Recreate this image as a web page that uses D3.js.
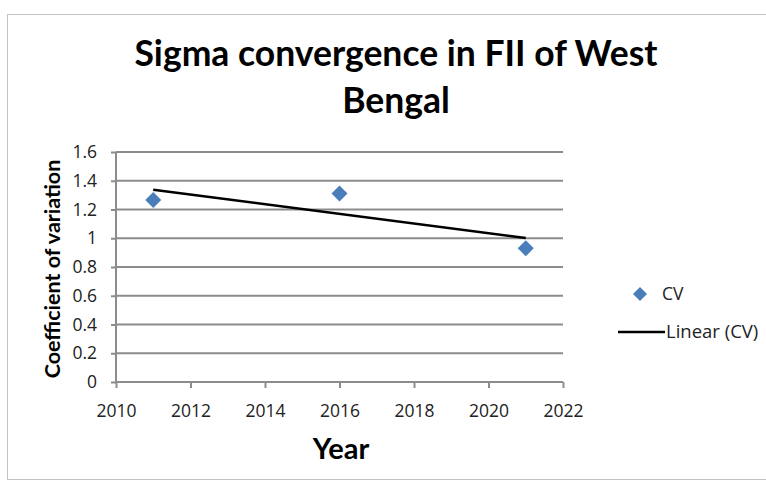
<!DOCTYPE html>
<html><head><meta charset="utf-8">
<script src="https://cdn.jsdelivr.net/npm/d3@7"></script>
<style>body{margin:0;background:#fff;} text{font-family:Lato,"Open Sans",sans-serif;}</style>
</head><body>
<svg id="c" width="766" height="486"></svg>
<script>
const years = [2011, 2016, 2021];
const cv = [1.266, 1.312, 0.930];
const xTicks = [2010, 2012, 2014, 2016, 2018, 2020, 2022];
const yTicks = [0, 0.2, 0.4, 0.6, 0.8, 1, 1.2, 1.4, 1.6];
const titleLines = ["Sigma convergence in FII of West", "Bengal"];

const svg = d3.select("#c");
svg.append("rect").attr("x", 7.5).attr("y", 14.5).attr("width", 770).attr("height", 465)
  .attr("fill", "#fff").attr("stroke", "#c4c4c4").attr("stroke-width", 1);

const x = d3.scaleLinear().domain([2010, 2022]).range([116, 563]);
const y = d3.scaleLinear().domain([0, 1.6]).range([382, 152]);

// gridlines
svg.append("g").selectAll("line").data(yTicks.filter(d => d > 0)).join("line")
  .attr("x1", x(2010)).attr("x2", x(2022)).attr("y1", d => y(d)).attr("y2", d => y(d))
  .attr("stroke", "#8c8c8c").attr("stroke-width", 2);

const yAxis = svg.append("g").attr("transform", `translate(${x(2010)},0)`)
  .call(d3.axisLeft(y).tickValues(yTicks).tickFormat(d => String(d)).tickSize(5).tickPadding(14));
const xAxis = svg.append("g").attr("transform", `translate(0,${y(0)})`)
  .call(d3.axisBottom(x).tickValues(xTicks).tickFormat(d3.format("d")).tickSize(6).tickPadding(17));
[yAxis, xAxis].forEach(a => {
  a.selectAll("path").attr("stroke", "#8c8c8c").attr("stroke-width", 2);
  a.selectAll("line").attr("stroke", "#8c8c8c").attr("stroke-width", 2);
  a.selectAll("text").attr("fill", "#222").style("font-size", "17.5px").style("font-family", "'Open Sans', sans-serif");
});
yAxis.select("path").attr("d", `M0,${y(0)+1}V${y(1.6)}`);
xAxis.select("path").attr("d", `M${x(2010)},0H${x(2022)}`);

// trend line (least squares)
const mx = d3.mean(years), my = d3.mean(cv);
const slope = d3.sum(years, (d, i) => (d - mx) * (cv[i] - my)) / d3.sum(years, d => (d - mx) ** 2);
const icpt = my - slope * mx;
const x0 = d3.min(years), x1 = d3.max(years);
svg.append("line").attr("x1", x(x0)).attr("y1", y(icpt + slope * x0))
  .attr("x2", x(x1)).attr("y2", y(icpt + slope * x1))
  .attr("stroke", "#000").attr("stroke-width", 2.5);

const dpath = "M0,-8L8,0L0,8L-8,0Z";
svg.append("g").selectAll("path").data(years).join("path")
  .attr("transform", (d, i) => `translate(${x(d)},${y(cv[i])})`)
  .attr("d", dpath).attr("fill", "#4a7ebb");

// title
svg.append("g").selectAll("text").data(titleLines).join("text")
  .attr("x", 396).attr("y", (d, i) => 66 + i * 47).attr("text-anchor", "middle")
  .style("font-size", "35.5px").style("font-weight", "bold").attr("fill", "#000").text(d => d);

// axis titles
svg.append("text").attr("transform", "translate(60,269) rotate(-90)").attr("text-anchor", "middle")
  .style("font-size", "21.5px").style("font-weight", "bold").text("Coefficient of variation");
svg.append("text").attr("x", 341).attr("y", 459).attr("text-anchor", "middle")
  .style("font-size", "29px").style("font-weight", "bold").text("Year");

// legend
svg.append("path").attr("transform", "translate(640,294)").attr("d", "M0,-7L7,0L0,7L-7,0Z").attr("fill", "#4a7ebb");
svg.append("text").attr("x", 662).attr("y", 300).style("font-size", "17.5px").style("font-family", "'Open Sans', sans-serif").attr("fill", "#222").text("CV");
svg.append("line").attr("x1", 618).attr("x2", 665).attr("y1", 332).attr("y2", 332).attr("stroke", "#000").attr("stroke-width", 2.5);
svg.append("text").attr("x", 666).attr("y", 338).style("font-size", "18.5px").style("font-family", "'Open Sans', sans-serif").attr("fill", "#222").text("Linear (CV)");
</script>
</body></html>
